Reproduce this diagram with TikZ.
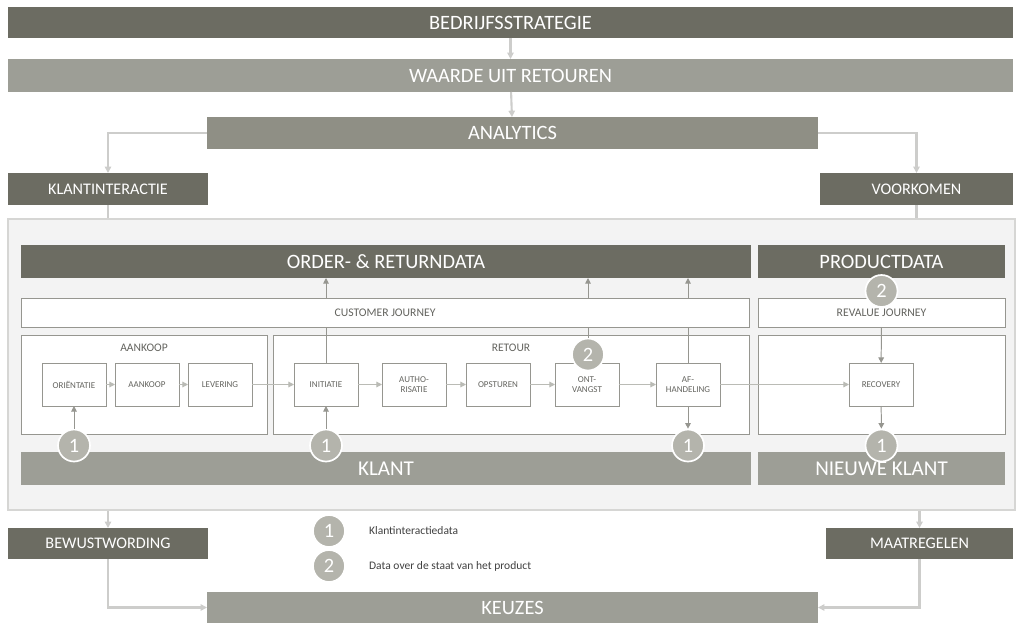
\documentclass[tikz,border=0pt]{standalone}
\usepackage{fontspec}
\setmainfont{Carlito}
\usepackage{xcolor}
\usetikzlibrary{arrows.meta,calc,positioning}
\definecolor{donker}{RGB}{108,108,98}
\definecolor{midden}{RGB}{143,143,133}
\definecolor{licht}{RGB}{157,158,150}
\definecolor{bolkleur}{RGB}{180,180,172}
\definecolor{paneel}{RGB}{243,243,243}
\definecolor{paneelrand}{RGB}{214,214,212}
\definecolor{rand}{RGB}{150,150,144}
\definecolor{tekstgrijs}{RGB}{100,100,95}
\definecolor{pijl}{RGB}{205,205,203}
\newcommand{\pxl}{0.025cm}
\newcommand{\fs}[1]{\fontsize{#1}{#1}\selectfont}

\begin{document}
\begin{tikzpicture}[x=\pxl,y=-\pxl,
  bar/.style={fill=#1,text=white,inner sep=0pt,outer sep=0pt,font=\fs{14.5}},bar/.default=donker,
  sz/.style 2 args={minimum width=#1*\pxl,minimum height=#2*\pxl},
  kader/.style={draw=rand,fill=white,line width=0.7pt,inner sep=0pt,outer sep=0pt},
  stap/.style={kader,sz={64}{43},align=center,font={\fontsize{6.4}{7.6}\selectfont},text=tekstgrijs},
  kop/.style={inner sep=0pt,font=\fs{8.2},text=tekstgrijs},
  bol/.style={circle,fill=bolkleur,draw=white,line width=1.2pt,minimum size=32*\pxl,
              inner sep=0pt,text=white,font=\fs{14.5}},
  hoofdlijn/.style={draw=pijl,line width=1.5pt},
  hoofdpijl/.style={hoofdlijn,-{Triangle[length=4.5pt,width=4.5pt]}},
  stappijl/.style={draw=licht!70,line width=0.8pt,-{Triangle[length=4pt,width=4pt]}},
  vlijn/.style={draw=rand,line width=0.7pt},
  vpijl/.style={vlijn,-{Triangle[length=4pt,width=4pt]}}]
  \useasboundingbox (0,0) rectangle (1018,623);
  % bovenste lagen
  \node[bar,sz={1005}{31}] (strat) at (510.5,22.5) {BEDRIJFSSTRATEGIE};
  \node[bar=licht,sz={1005}{33}] (waarde) at (510.5,75.5) {WAARDE UIT RETOUREN};
  \node[bar=midden,sz={611}{32}] (analytics) at (512.5,133) {ANALYTICS};
  \node[bar,sz={200}{32},font=\fs{11.5}] (klantint) at (108,189) {KLANTINTERACTIE};
  \node[bar,sz={193}{32},font=\fs{11.5}] (voork) at (916.5,189) {VOORKOMEN};
  % paneel met de journeys
  \node[fill=paneel,draw=paneelrand,line width=1pt,sz={1007}{291},inner sep=0pt] (paneel) at (511.5,364.5) {};
  \node[bar,sz={730}{33}] (order) at (386,261.5) {ORDER- \& RETURNDATA};
  \node[bar,sz={247}{33}] (product) at (881.5,261.5) {PRODUCTDATA};
  \node[kader,sz={728}{29},font=\fs{8.3},text=tekstgrijs] (cj) at (385,312.5) {CUSTOMER JOURNEY};
  \node[kader,sz={247}{29},font=\fs{8.3},text=tekstgrijs] (rj) at (881.5,312.5) {REVALUE JOURNEY};
  \node[kader,sz={246}{99}] (abox) at (144,384.5) {};
  \node[kader,sz={476}{99}] (rbox) at (511,384.5) {};
  \node[kader,sz={247}{99}] (vbox) at (881.5,384.5) {};
  \node[kop] (akop) at (144,348) {AANKOOP};
  \node[kop] (rkop) at (511,348) {RETOUR};
  \node[stap] (orient) at (74,384.5) {ORIËNTATIE};
  \node[stap] (aank) at (147,384.5) {AANKOOP};
  \node[stap] (lever) at (220,384.5) {LEVERING};
  \node[stap] (init) at (326,384.5) {INITIATIE};
  \node[stap] (auth) at (414,384.5) {AUTHO-\\RISATIE};
  \node[stap] (opst) at (498,384.5) {OPSTUREN};
  \node[stap] (ontv) at (587,384.5) {ONT-\\VANGST};
  \node[stap] (afh) at (688,384.5) {AF-\\HANDELING};
  \node[stap] (recov) at (881,384.5) {RECOVERY};
  \node[bar=licht,sz={730}{33},font=\fs{15}] (klant) at (386,468.5) {KLANT};
  \node[bar=licht,sz={247}{33},font=\fs{15}] (nklant) at (881.5,468.5) {NIEUWE KLANT};
  \node[bol] (c1a) at (74,445.5) {1};
  \node[bol] (c1b) at (326,445.5) {1};
  \node[bol] (c1c) at (688,445.5) {1};
  \node[bol] (c1d) at (881.5,445.5) {1};
  \node[bol] (c2a) at (588,354.5) {2};
  \node[bol] (c2b) at (881.5,291) {2};
  % onderste lagen
  \node[bar,sz={200}{31},font=\fs{11.5}] (bewust) at (108,543.5) {BEWUSTWORDING};
  \node[bar,sz={187}{31},font=\fs{11.5}] (maatr) at (919.5,543.5) {MAATREGELEN};
  \node[bar=licht,sz={611}{31}] (keuzes) at (512.5,607.5) {KEUZES};
  % legenda
  \node[bol] (l1) at (329,531) {1};
  \node[bol] (l2) at (329,566) {2};
  \node[kop,text=black!75,right=0.575cm of l1] (l1t) {Klantinteractiedata};
  \node[kop,text=black!75,right=0.575cm of l2] (l2t) {Data over de staat van het product};
  % verbindingen
  \draw[hoofdpijl] (strat) -- (waarde);
  \draw[hoofdpijl] (waarde) -- (analytics);
  \draw[hoofdpijl] (analytics.west) -| (klantint);
  \draw[hoofdpijl] (analytics.east) -| (voork);
  \draw[hoofdlijn] (klantint) -- (klantint |- paneel.north);
  \draw[hoofdlijn] (voork) -- (voork |- paneel.north);
  \draw[hoofdpijl] (bewust |- paneel.south) -- (bewust);
  \draw[hoofdpijl] (maatr |- paneel.south) -- (maatr);
  \draw[hoofdpijl] (bewust) |- (keuzes);
  \draw[hoofdpijl] (maatr) |- (keuzes);
  \foreach \a/\b in {orient/aank,aank/lever,lever/init,init/auth,auth/opst,opst/ontv,ontv/afh,afh/recov}
    \draw[stappijl] (\a) -- (\b);
  \foreach \n in {init,c2a,afh} {
    \draw[vlijn] (\n) -- (\n |- cj.south);
    \draw[vpijl] (\n |- cj.north) -- (\n |- order.south);
  }
  \draw[vpijl] (c1a) -- (orient);
  \draw[vpijl] (c1b) -- (init);
  \draw[vpijl] (afh) -- (c1c);
  \draw[vpijl] (recov) -- (c1d);
  \draw[vpijl] (rj) -- (recov);
\end{tikzpicture}
\end{document}
